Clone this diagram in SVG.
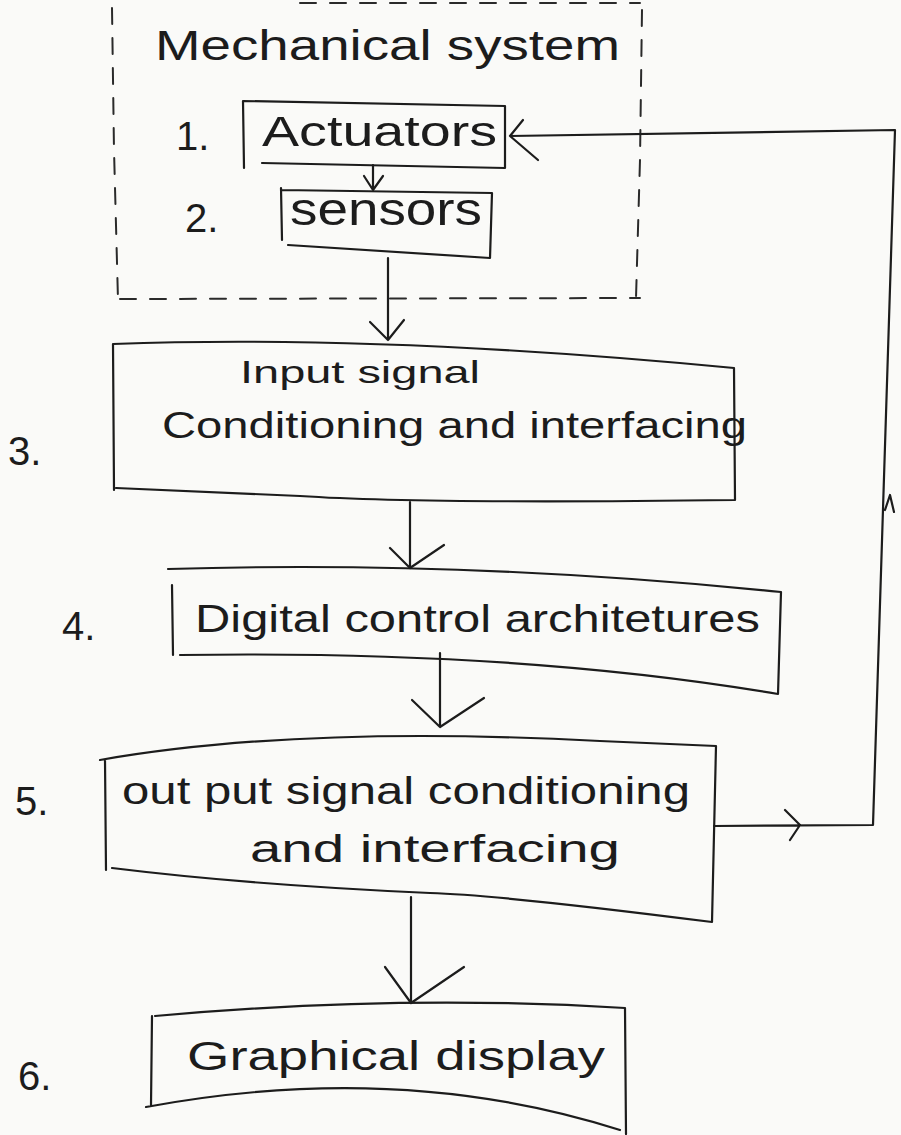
<svg xmlns="http://www.w3.org/2000/svg" width="901" height="1135" viewBox="0 0 901 1135">
<defs>
<style>
.ink{fill:none;stroke:#1c1c1c;stroke-width:2.2;stroke-linecap:round;stroke-linejoin:round}
.dash{fill:none;stroke:#2a2a2a;stroke-width:2;stroke-dasharray:16 14;stroke-linecap:round}
.t{font-family:"Liberation Sans","DejaVu Sans",sans-serif;fill:#1c1c1c}
</style>
</defs>
<rect width="901" height="1135" fill="#fafaf8"/>
<g id="mechanical-system">
<path class="dash" d="M112 8 L114 150 L118 300"/>
<path class="dash" d="M120 299 L640 298"/>
<path class="dash" d="M642 10 L640 160 L636 298"/>
<path class="dash" d="M300 3 L640 3"/>
<text class="t" x="155" y="60" font-size="42" textLength="465" lengthAdjust="spacingAndGlyphs">Mechanical system</text>
</g>
<g id="actuators">
<path class="ink" d="M243 101 L505 106 L505 168 L262 163 M243 101 L244 168"/>
<text class="t" x="176" y="150" font-size="40">1.</text>
<text class="t" x="262" y="146" font-size="42" textLength="235" lengthAdjust="spacingAndGlyphs">Actuators</text>
</g>
<g id="sensors">
<path class="ink" d="M281 190 L492 193 L490 258 L288 245 M281 188 L282 240"/>
<text class="t" x="185" y="232" font-size="40">2.</text>
<text class="t" x="290" y="225" font-size="46" textLength="192" lengthAdjust="spacingAndGlyphs">sensors</text>
</g>
<g id="input-signal">
<path class="ink" d="M113 344 Q380 334 734 368 L735 500 Q420 504 300 496 L116 488 M113 344 L114 490"/>
<text class="t" x="8" y="465" font-size="40">3.</text>
<text class="t" x="240" y="383" font-size="32" textLength="240" lengthAdjust="spacingAndGlyphs">Input signal</text>
<text class="t" x="162" y="438" font-size="36" textLength="585" lengthAdjust="spacingAndGlyphs">Conditioning and interfacing</text>
</g>
<g id="digital-control">
<path class="ink" d="M168 569 Q470 560 781 592 L778 694 Q520 650 180 655 M172 585 L173 655"/>
<text class="t" x="62" y="640" font-size="40">4.</text>
<text class="t" x="195" y="632" font-size="38" textLength="565" lengthAdjust="spacingAndGlyphs">Digital control architetures</text>
</g>
<g id="output-signal">
<path class="ink" d="M100 760 Q300 725 600 741 L716 746 L712 922 Q500 895 430 893 Q250 885 112 868 M105 760 L106 870"/>
<text class="t" x="15" y="815" font-size="40">5.</text>
<text class="t" x="122" y="804" font-size="38" textLength="568" lengthAdjust="spacingAndGlyphs">out put signal conditioning</text>
<text class="t" x="250" y="862" font-size="38" textLength="370" lengthAdjust="spacingAndGlyphs">and interfacing</text>
</g>
<g id="graphical-display">
<path class="ink" d="M155 1016 Q400 994 625 1008 L626 1134 M620 1130 Q400 1060 146 1107 M152 1016 L151 1105"/>
<text class="t" x="18" y="1090" font-size="40">6.</text>
<text class="t" x="187" y="1070" font-size="40" textLength="418" lengthAdjust="spacingAndGlyphs">Graphical display</text>
</g>
<g id="connectors">
<path class="ink" d="M373 165 L373 190 M364 176 L373 190 L383 176"/>
<path class="ink" d="M388 258 L388 340 M370 322 L388 340 L404 320"/>
<path class="ink" d="M410 502 L410 568 M390 548 L410 568 L444 545"/>
<path class="ink" d="M440 653 L440 727 M412 700 L440 727 L484 698"/>
<path class="ink" d="M411 897 L411 1003 M385 967 L411 1003 L464 967"/>
<path class="ink" d="M714 826 L873 825 L895 130 L510 136 M523 120 L510 136 L538 160 M785 810 L800 825 L790 840 M885 510 L890 495 L894 512"/>
</g>
</svg>
